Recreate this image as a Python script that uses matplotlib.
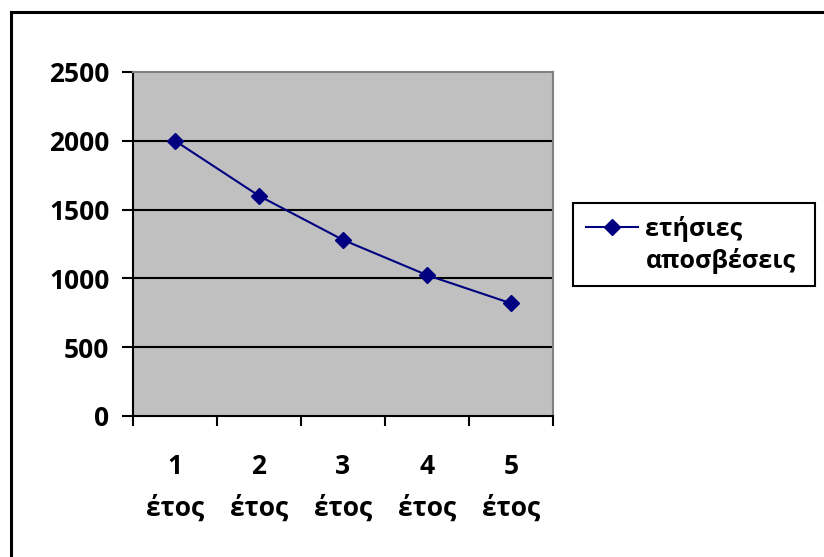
import matplotlib
matplotlib.use('Agg')
import matplotlib.pyplot as plt
from matplotlib.lines import Line2D

plt.rcParams['font.family'] = ['Open Sans', 'DejaVu Sans']
plt.rcParams['font.weight'] = 'bold'

# data
years = ['1\nέτος', '2\nέτος', '3\nέτος', '4\nέτος', '5\nέτος']
depreciation = [2000, 1600, 1280, 1024, 819]
series_label = ['ετήσιες', 'αποσβέσεις']
y_ticks = [0, 500, 1000, 1500, 2000, 2500]

W, H = 824, 557
fig = plt.figure(figsize=(W / 100, H / 100), dpi=100)
fig.patch.set_facecolor('white')

ax = fig.add_axes([133 / W, 1 - 416 / H, (553 - 133) / W, (416 - 72) / H])
ax.set_facecolor('#C0C0C0')

x = list(range(len(years)))
line, = ax.plot(x, depreciation, color='#000080', linewidth=1.5,
                marker='D', markersize=8, markerfacecolor='#000080',
                markeredgecolor='#000080', zorder=5)

ax.set_xlim(-0.5, len(years) - 0.5)
ax.set_ylim(0, 2500)
ax.set_yticks(y_ticks)
ax.set_yticklabels([str(v) for v in y_ticks])
ax.set_xticks(x)
ax.set_xticklabels(years, linespacing=1.68)
ax.set_xticks([i - 0.5 for i in range(len(years) + 1)], minor=True)

for v in y_ticks[1:-1]:
    ax.axhline(v, color='black', linewidth=1.5, zorder=1)

ax.tick_params(axis='y', length=8, width=1.5, pad=9, labelsize=19)
ax.tick_params(axis='x', which='major', length=0, pad=27, labelsize=19)
ax.tick_params(axis='x', which='minor', length=7, width=1.5, direction='out')

ax.spines['left'].set_color('black')
ax.spines['left'].set_linewidth(1.5)
ax.spines['bottom'].set_color('black')
ax.spines['bottom'].set_linewidth(1.5)
ax.spines['top'].set_color('#808080')
ax.spines['top'].set_linewidth(1.5)
ax.spines['right'].set_color('#808080')
ax.spines['right'].set_linewidth(1.5)

# legend: handle on the first line only
blank = Line2D([], [], linestyle='none')
leg = ax.legend([line, blank], series_label, loc='upper left',
                bbox_to_anchor=(573 / W, 1 - 203 / H - 0.01, (815 - 573) / W, 0.01),
                bbox_transform=fig.transFigure, mode='expand',
                fontsize=18, frameon=True, fancybox=False, framealpha=1,
                edgecolor='black', borderpad=0.5, labelspacing=0.25,
                handlelength=2.1, handletextpad=0.3, borderaxespad=0)
leg.get_frame().set_linewidth(1.5)

# outer chart border (cropped screenshot: only top and left edges visible)
fig.add_artist(Line2D([11 / W, 11 / W], [0, 1 - 12 / H], color='black',
                      linewidth=2.2, transform=fig.transFigure))
fig.add_artist(Line2D([11 / W, 1], [1 - 12 / H, 1 - 12 / H], color='black',
                      linewidth=2.2, transform=fig.transFigure))

fig.savefig('out.png', dpi=100, facecolor='white')
